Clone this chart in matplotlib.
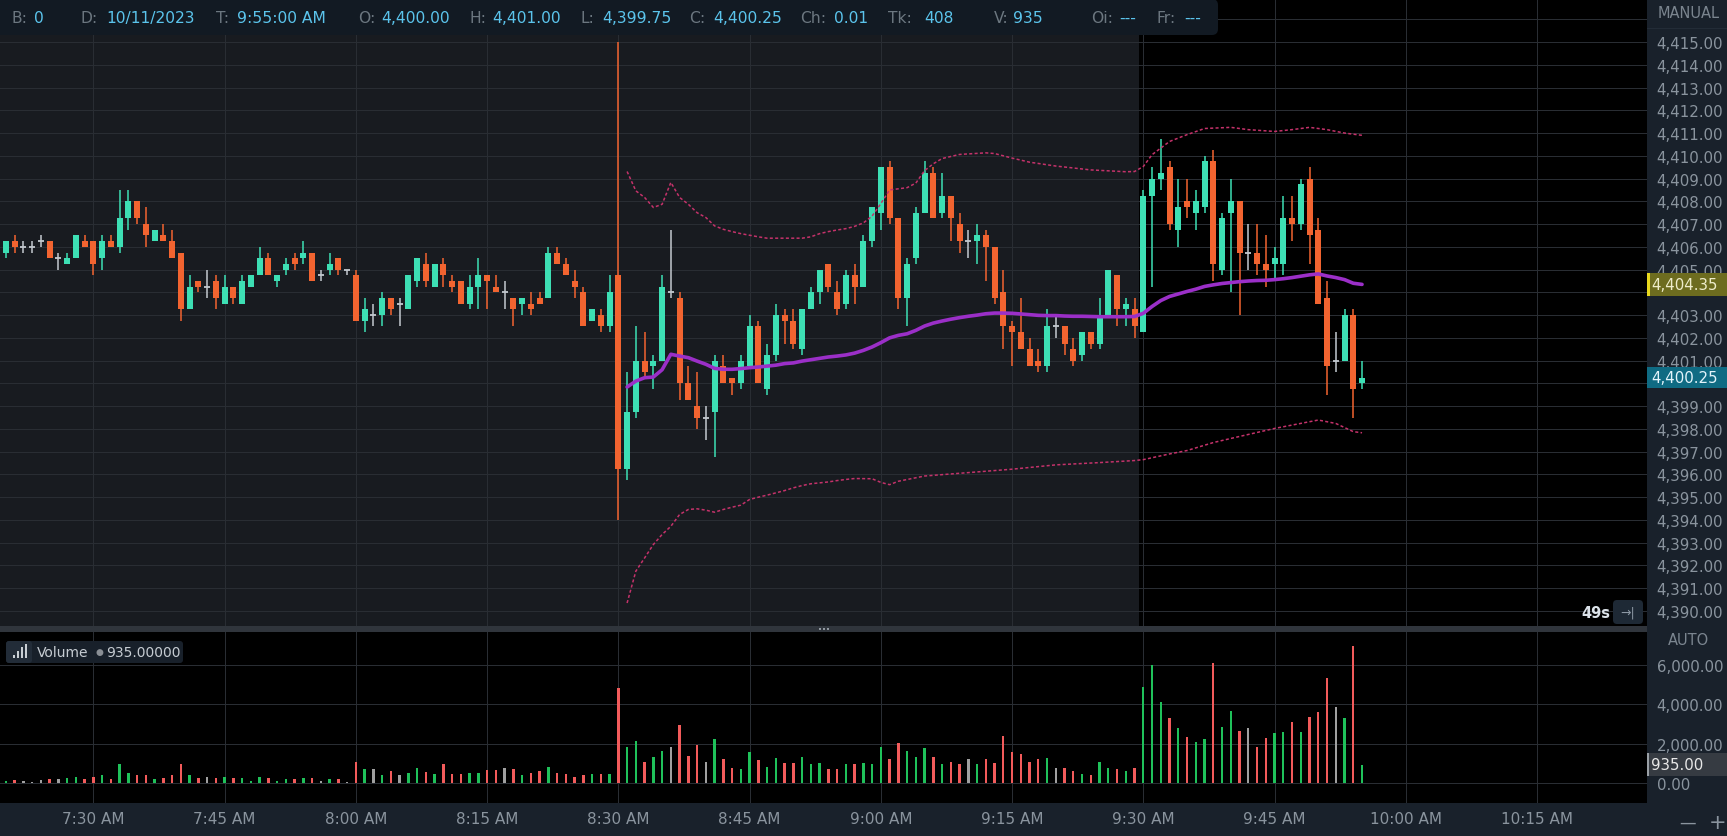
import matplotlib
matplotlib.use("Agg")
import matplotlib.pyplot as plt
import matplotlib.transforms as mtransforms
from matplotlib.patches import FancyBboxPatch, Rectangle
import numpy as np

plt.rcParams['font.family'] = ['DejaVu Sans']

# ---------------- data (1-minute bars, index 0 = 7:20 AM) ----------------
opens = [
    4405.75, 4406.25, 4406.0, 4406.0, 4406.25, 4406.25, 4405.5, 4405.25, 4405.5, 4406.25,
    4406.25, 4405.5, 4406.25, 4406.0, 4407.25, 4408.0, 4407.0, 4406.25, 4406.5, 4406.25,
    4405.75, 4403.25, 4404.5, 4404.25, 4404.5, 4403.5, 4404.25, 4403.5, 4404.25, 4404.75,
    4405.5, 4404.5, 4405.0, 4405.5, 4405.5, 4405.75, 4404.75, 4405.0, 4405.5, 4405.0,
    4404.75, 4402.75, 4403.0, 4403.0, 4403.75, 4403.5, 4403.25, 4404.5, 4405.25, 4404.25,
    4405.25, 4404.5, 4404.5, 4403.5, 4404.25, 4404.75, 4404.25, 4404.0, 4403.75, 4403.5,
    4403.5, 4403.75, 4403.75, 4405.75, 4405.25, 4404.5, 4404.0, 4402.75, 4403.0, 4402.5,
    4404.75, 4396.25, 4398.75, 4401.0, 4400.75, 4401.0, 4404.0, 4403.75, 4400.0, 4399.0,
    4398.5, 4398.75, 4400.75, 4400.25, 4400.0, 4400.75, 4402.5, 4399.75, 4401.25, 4403.0,
    4402.75, 4401.5, 4403.25, 4404.0, 4405.25, 4404.0, 4403.5, 4404.75, 4404.25, 4406.25,
    4407.5, 4409.5, 4407.25, 4403.75, 4405.5, 4407.5, 4409.25, 4407.5, 4408.25, 4407.0,
    4406.25, 4406.25, 4406.5, 4406.0, 4404.0, 4402.5, 4402.25, 4401.5, 4401.0, 4400.75,
    4402.5, 4402.5, 4401.5, 4401.25, 4402.25, 4401.75, 4403.0, 4404.75, 4403.25, 4403.25,
    4402.25, 4408.25, 4409.0, 4409.5, 4406.75, 4408.0, 4407.5, 4407.75, 4409.75, 4405.0,
    4407.5, 4408.0, 4405.75, 4405.75, 4405.25, 4405.25, 4405.25, 4407.25, 4407.0, 4409.0,
    4406.75, 4403.75, 4401.0, 4401.0, 4403.0, 4400.0,
]
highs = [
    4406.25, 4406.5, 4406.25, 4406.25, 4406.5, 4406.25, 4405.75, 4405.75, 4406.5, 4406.5,
    4406.25, 4406.5, 4406.5, 4408.5, 4408.5, 4408.0, 4407.75, 4406.75, 4407.0, 4406.75,
    4405.75, 4404.75, 4404.5, 4405.0, 4404.75, 4404.75, 4404.25, 4404.75, 4404.75, 4406.0,
    4405.75, 4404.75, 4405.5, 4405.75, 4406.25, 4405.75, 4405.0, 4405.75, 4405.5, 4405.0,
    4405.0, 4403.75, 4403.5, 4404.0, 4403.75, 4403.75, 4404.75, 4405.5, 4405.75, 4405.25,
    4405.5, 4404.75, 4404.5, 4404.75, 4405.5, 4404.75, 4404.75, 4404.5, 4403.75, 4403.75,
    4404.0, 4404.0, 4406.0, 4406.0, 4405.5, 4405.0, 4404.25, 4403.25, 4403.25, 4404.75,
    4415.0, 4400.5, 4402.5, 4402.25, 4401.25, 4404.75, 4406.75, 4404.0, 4400.75, 4400.5,
    4399.0, 4401.25, 4401.25, 4400.25, 4401.25, 4403.0, 4402.75, 4401.75, 4403.5, 4403.25,
    4403.25, 4403.25, 4404.25, 4405.0, 4405.25, 4404.5, 4405.0, 4405.25, 4406.5, 4407.75,
    4409.5, 4409.75, 4407.25, 4405.5, 4407.75, 4409.75, 4409.5, 4409.25, 4408.25, 4407.5,
    4406.75, 4407.0, 4406.75, 4406.0, 4405.0, 4402.75, 4403.75, 4402.0, 4401.5, 4403.25,
    4403.0, 4402.5, 4402.0, 4402.25, 4402.25, 4403.75, 4405.0, 4404.75, 4403.75, 4403.75,
    4408.5, 4409.5, 4410.75, 4409.75, 4409.0, 4409.0, 4408.5, 4410.0, 4410.25, 4407.5,
    4409.0, 4408.0, 4407.0, 4407.0, 4406.5, 4406.0, 4408.25, 4408.25, 4409.0, 4409.5,
    4407.25, 4404.5, 4402.25, 4403.25, 4403.25, 4401.0,
]
lows = [
    4405.5, 4405.75, 4405.75, 4405.75, 4406.0, 4405.5, 4405.0, 4405.25, 4405.5, 4406.0,
    4404.75, 4405.0, 4406.0, 4405.75, 4406.75, 4407.0, 4406.0, 4406.25, 4406.25, 4405.5,
    4402.75, 4403.25, 4404.0, 4403.75, 4403.25, 4403.5, 4403.5, 4403.5, 4404.25, 4404.75,
    4404.75, 4404.25, 4404.75, 4405.0, 4405.25, 4404.5, 4404.5, 4404.75, 4404.75, 4404.75,
    4402.75, 4402.25, 4402.5, 4402.5, 4403.0, 4402.5, 4403.25, 4404.25, 4404.25, 4404.25,
    4404.25, 4404.0, 4403.5, 4403.25, 4403.25, 4403.25, 4404.0, 4403.25, 4402.5, 4403.0,
    4403.0, 4403.5, 4403.75, 4405.25, 4404.75, 4403.75, 4402.5, 4402.75, 4402.25, 4402.25,
    4394.0, 4395.75, 4398.5, 4400.25, 4399.75, 4401.0, 4403.75, 4399.25, 4399.25, 4398.0,
    4397.5, 4396.75, 4400.0, 4399.5, 4399.75, 4400.75, 4400.0, 4399.5, 4401.0, 4401.75,
    4401.5, 4401.25, 4403.25, 4403.5, 4404.0, 4403.0, 4403.25, 4403.5, 4404.25, 4406.0,
    4406.75, 4407.0, 4403.25, 4402.5, 4405.25, 4407.5, 4407.25, 4407.25, 4406.25, 4405.75,
    4405.5, 4405.25, 4404.5, 4403.5, 4401.5, 4400.75, 4401.5, 4400.75, 4400.5, 4400.5,
    4402.0, 4401.25, 4400.75, 4401.0, 4401.5, 4401.5, 4403.0, 4402.5, 4402.5, 4402.0,
    4402.25, 4404.25, 4408.5, 4406.75, 4406.0, 4407.25, 4406.75, 4407.5, 4404.5, 4404.75,
    4404.0, 4403.0, 4405.0, 4404.75, 4404.25, 4404.5, 4404.75, 4406.25, 4406.75, 4405.25,
    4403.5, 4399.5, 4400.5, 4401.0, 4398.5, 4399.75,
]
closes = [
    4406.25, 4406.0, 4406.0, 4406.0, 4406.25, 4405.5, 4405.5, 4405.5, 4406.5, 4406.0,
    4405.25, 4406.25, 4406.0, 4407.25, 4408.0, 4407.25, 4406.5, 4406.75, 4406.25, 4405.5,
    4403.25, 4404.25, 4404.25, 4404.25, 4403.75, 4404.25, 4403.75, 4404.5, 4404.75, 4405.5,
    4404.75, 4404.75, 4405.25, 4405.25, 4405.75, 4404.5, 4404.75, 4405.25, 4405.0, 4405.0,
    4402.75, 4403.25, 4403.0, 4403.75, 4403.25, 4403.5, 4404.75, 4405.5, 4404.5, 4405.25,
    4404.75, 4404.25, 4403.5, 4404.25, 4404.75, 4404.5, 4404.0, 4404.0, 4403.25, 4403.75,
    4403.25, 4403.5, 4405.75, 4405.25, 4404.75, 4404.25, 4402.5, 4403.25, 4402.5, 4404.0,
    4396.25, 4398.75, 4401.0, 4400.5, 4401.0, 4404.25, 4404.0, 4400.0, 4399.25, 4398.5,
    4398.5, 4401.0, 4400.0, 4400.0, 4401.0, 4402.5, 4400.0, 4401.25, 4403.0, 4402.75,
    4401.75, 4403.25, 4404.0, 4405.0, 4404.25, 4403.25, 4404.75, 4404.25, 4406.25, 4407.75,
    4409.5, 4407.25, 4403.75, 4405.25, 4407.5, 4409.25, 4407.25, 4408.25, 4407.25, 4406.25,
    4406.25, 4406.5, 4406.0, 4403.75, 4402.5, 4402.25, 4401.5, 4400.75, 4400.75, 4402.5,
    4402.5, 4401.75, 4401.0, 4402.25, 4401.75, 4403.0, 4405.0, 4403.25, 4403.5, 4402.5,
    4408.25, 4409.0, 4409.25, 4407.0, 4407.75, 4407.75, 4408.0, 4409.75, 4405.25, 4407.25,
    4408.0, 4405.75, 4405.75, 4405.25, 4405.0, 4405.5, 4407.25, 4407.0, 4408.75, 4406.5,
    4403.5, 4400.75, 4401.0, 4403.0, 4399.75, 4400.25,
]
volumes = [
    120, 185, 135, 70, 185, 200, 200, 270, 335, 200,
    335, 400, 200, 960, 505, 400, 400, 200, 270, 400,
    960, 400, 270, 335, 270, 335, 270, 270, 135, 335,
    270, 135, 200, 200, 270, 270, 135, 200, 200, 70,
    1075, 705, 705, 400, 640, 400, 505, 775, 590, 455,
    960, 455, 455, 520, 520, 655, 655, 775, 705, 400,
    520, 640, 840, 520, 455, 335, 400, 455, 455, 455,
    4805, 1850, 2150, 1075, 1345, 1645, 1850, 2955, 1380, 1915,
    1090, 2220, 1210, 775, 705, 1595, 1160, 840, 1275, 1025,
    1025, 1345, 960, 1025, 705, 705, 960, 960, 1025, 960,
    1850, 1210, 2015, 1645, 1345, 1780, 1345, 960, 1090, 960,
    1210, 960, 1210, 1025, 2400, 1595, 1460, 1090, 1210, 1275,
    775, 775, 640, 455, 400, 1090, 775, 705, 640, 775,
    4870, 6000, 4115, 3295, 2790, 2350, 2100, 2220, 6065, 2855,
    3680, 2670, 2790, 1850, 2285, 2535, 2605, 3110, 2605, 3360,
    3610, 5310, 3865, 3295, 6955, 935,
]

# VWAP-style indicator (starts at 8:31)
vwap_x = list(range(71, 156))
vwap_vals = [
    4399.84, 4400.10, 4400.25, 4400.28, 4400.60, 4401.28, 4401.20, 4401.13, 4400.98, 4400.84,
    4400.66, 4400.62, 4400.62, 4400.65, 4400.69, 4400.72, 4400.76, 4400.80, 4400.87, 4400.90,
    4400.98, 4401.04, 4401.10, 4401.16, 4401.20, 4401.25, 4401.33, 4401.45, 4401.60, 4401.79,
    4402.00, 4402.11, 4402.18, 4402.33, 4402.52, 4402.65, 4402.74, 4402.82, 4402.89, 4402.95,
    4403.00, 4403.06, 4403.09, 4403.09, 4403.08, 4403.05, 4403.02, 4402.99, 4402.98, 4402.98,
    4402.96, 4402.95, 4402.95, 4402.94, 4402.93, 4402.93, 4402.93, 4402.93, 4402.94, 4403.08,
    4403.38, 4403.64, 4403.82, 4403.93, 4404.04, 4404.14, 4404.26, 4404.33, 4404.39, 4404.43,
    4404.47, 4404.50, 4404.52, 4404.53, 4404.56, 4404.60, 4404.65, 4404.71, 4404.77, 4404.81,
    4404.72, 4404.65, 4404.56, 4404.40, 4404.35,
]
upper_x = [71, 72, 73, 74, 75, 76, 77, 78, 79, 80, 81, 82, 83, 84, 85, 86, 87, 91, 92, 93,
           94, 95, 96, 97, 98, 99, 100, 101, 103, 104, 105, 106, 107, 109, 112, 113, 115, 117,
           120, 124, 128, 129, 130, 131, 133, 135, 137, 140, 142, 145, 147, 149, 151, 153, 155]
upper_vals = [4409.31, 4408.46, 4408.17, 4407.73, 4407.87, 4408.83, 4408.17, 4407.87, 4407.50,
              4407.29, 4406.92, 4406.77, 4406.67, 4406.58, 4406.51, 4406.44, 4406.38, 4406.38,
              4406.44, 4406.58, 4406.67, 4406.74, 4406.80, 4406.90, 4407.05, 4407.35, 4407.90,
              4408.50, 4408.60, 4408.80, 4409.35, 4409.65, 4409.88, 4410.06, 4410.13, 4410.10,
              4409.90, 4409.72, 4409.55, 4409.38, 4409.30, 4409.31, 4409.53, 4410.05, 4410.63,
              4410.93, 4411.20, 4411.25, 4411.15, 4411.07, 4411.15, 4411.25, 4411.15, 4411.00,
              4410.90]
lower_x = [71, 72, 73, 74, 75, 76, 77, 78, 79, 80, 81, 82, 83, 84, 85, 86, 87, 88, 89, 90,
           91, 92, 93, 94, 95, 96, 97, 99, 100, 101, 102, 105, 110, 115, 120, 125, 129, 130,
           133, 135, 138, 140, 145, 150, 152, 154, 155]
lower_vals = [4390.35, 4391.75, 4392.33, 4392.92, 4393.36, 4393.72, 4394.24, 4394.46, 4394.49,
              4394.43, 4394.34, 4394.46, 4394.56, 4394.65, 4394.90, 4395.00, 4395.09, 4395.19,
              4395.29, 4395.41, 4395.51, 4395.59, 4395.63, 4395.67, 4395.73, 4395.78, 4395.82,
              4395.81, 4395.65, 4395.55, 4395.70, 4395.93, 4396.08, 4396.23, 4396.42, 4396.52,
              4396.61, 4396.65, 4396.90, 4397.05, 4397.40, 4397.58, 4398.02, 4398.39, 4398.24,
              4397.88, 4397.83]

time_ticks = [10, 25, 40, 55, 70, 85, 100, 115, 130, 145, 160, 175]
time_labels = ["7:30 AM", "7:45 AM", "8:00 AM", "8:15 AM", "8:30 AM", "8:45 AM",
               "9:00 AM", "9:15 AM", "9:30 AM", "9:45 AM", "10:00 AM", "10:15 AM"]
price_ticks = list(range(4390, 4416))
volume_ticks = [0, 2000, 4000, 6000]
session_open_index = 129.5   # regular session starts at 9:30

last_vwap = 4404.35
header_labels = ["B:", "D:", "T:", "O:", "H:", "L:", "C:", "Ch:", "Tk:", "V:", "Oi:", "Fr:"]
header_values = ["0", "10/11/2023", "9:55:00 AM",
                 f"{opens[-1]:,.2f}", f"{highs[-1]:,.2f}", f"{lows[-1]:,.2f}", f"{closes[-1]:,.2f}",
                 "0.01", "408", f"{volumes[-1]}", "---", "---"]

# ---------------- styles ----------------
W, H = 1727, 837
GREEN, RED, GREY = '#3ddfb4', '#f26430', '#c3c9d0'
VGREEN, VRED, VGREY = '#1fc15a', '#f25b5b', '#a0a0a0'
GRID = '#292d33'
PANEL = '#19212b'
TXT = '#8a949e'

fig = plt.figure(figsize=(W / 100, H / 100), dpi=100)
fig.patch.set_facecolor(PANEL)
pix = mtransforms.Affine2D().scale(1 / 100, -1 / 100).translate(0, H / 100) + fig.dpi_scale_trans


def fx(px):
    return px / W


def fy(py):
    return 1 - py / H


CH_R = 1647
ax = fig.add_axes([0, fy(627), fx(CH_R), fy(0) - fy(627)])
axv = fig.add_axes([0, fy(804), fx(CH_R), fy(633) - fy(804)])

XL = (-0.675, 187.57)
for a in (ax, axv):
    a.set_facecolor('#000000')
    a.set_xlim(*XL)
    for s in a.spines.values():
        s.set_visible(False)
ax.set_ylim(4389.34, 4416.89)
axv.set_ylim(-996, 7653)

# session shading (pre-market lighter)
ax.axvspan(XL[0], session_open_index, color='#181b20', zorder=0, lw=0)

# grid
for p in range(4390, 4417):
    ax.axhline(p, color=GRID, lw=0.75, zorder=1)
for t in time_ticks:
    ax.axvline(t, color=GRID, lw=0.75, zorder=1)
    axv.axvline(t, color=GRID, lw=0.75, zorder=1)
for v in volume_ticks:
    axv.axhline(v, color=GRID, lw=0.75, zorder=1)

# candles
o = np.array(opens); h = np.array(highs); l = np.array(lows); c = np.array(closes)
x = np.arange(len(o))
col = np.where(c > o, GREEN, np.where(c < o, RED, GREY))
vcol = np.where(c > o, VGREEN, np.where(c < o, VRED, VGREY))
ax.vlines(x, l, h, colors=col, lw=1.1, zorder=3)
bh = np.abs(c - o)
m = bh > 0
ax.bar(x[m], bh[m], bottom=np.minimum(o, c)[m], width=0.68, color=col[m], lw=0, zorder=4)
ax.hlines(o[~m], x[~m] - 0.34, x[~m] + 0.34, colors=GREY, lw=1.3, zorder=4)

# indicator lines
ax.plot(upper_x, upper_vals, color='#c4326a', lw=1.1, ls=(0, (2.0, 1.5)), zorder=5)
ax.plot(lower_x, lower_vals, color='#c4326a', lw=1.1, ls=(0, (2.0, 1.5)), zorder=5)
ax.plot(vwap_x, vwap_vals, color='#9b2fc8', lw=2.6, zorder=6, solid_capstyle='round')

# volume bars
axv.bar(x, volumes, width=0.27, color=vcol, lw=0, zorder=3)

# axes ticks (labels hidden behind the last-price boxes are left blank)
hidden = {int(last_vwap), int(closes[-1])}
ax.yaxis.tick_right()
ax.set_yticks(price_ticks)
ax.set_yticklabels(["" if p in hidden else f"{p:,.2f}" for p in price_ticks])
ax.tick_params(axis='y', length=0, pad=7, labelsize=10.8, labelcolor=TXT)
ax.tick_params(axis='x', bottom=False, labelbottom=False)

axv.yaxis.tick_right()
axv.set_yticks(volume_ticks)
axv.set_yticklabels([f"{v:,.2f}" for v in volume_ticks])
axv.tick_params(axis='y', length=0, pad=7, labelsize=10.8, labelcolor=TXT)
axv.set_xticks(time_ticks)
axv.set_xticklabels(time_labels)
axv.tick_params(axis='x', length=0, pad=6, labelsize=11, labelcolor=TXT)

# ---------------- overlays ----------------
# separator between panes
fig.add_artist(Rectangle((0, 627), CH_R, 6, transform=pix, color='#30353c', lw=0, zorder=2))
fig.text(824 / W, fy(630.5), "•••", color='#aab2ba', fontsize=5, ha='center', va='center', zorder=5)

# header bar
fig.add_artist(FancyBboxPatch((-10, 0), 1228, 36, boxstyle='round,pad=0,rounding_size=6',
                              transform=pix, facecolor='#121a23', edgecolor='none', zorder=2))
label_x = [11.5, 80, 216, 358, 469, 581, 689, 800, 888, 994, 1091, 1156]
value_x = [34, 106, 237, 381, 492.5, 602, 713, 834, 924, 1013, 1119, 1184]
for lab, val, lx, vx in zip(header_labels, header_values, label_x, value_x):
    fig.text(fx(lx), fy(18.5), lab, color='#6c7780', fontsize=11.2, va='center', ha='left', zorder=5)
    fig.text(fx(vx), fy(18.5), val, color='#5bc4ec', fontsize=11.2, va='center', ha='left', zorder=5)

# axis captions
fig.text(fx(1689), fy(14), "MANUAL", color='#7b858f', fontsize=10.5, ha='center', va='center')
fig.add_artist(Rectangle((CH_R, 29), 80, 1, transform=pix, color='#232c37', lw=0))
fig.text(fx(1689), fy(641), "AUTO", color='#7b858f', fontsize=10.5, ha='center', va='center')

# last price labels on the price axis
bl = mtransforms.blended_transform_factory(fig.transFigure, ax.transData)
half = 11.3 / 22.76
fig.add_artist(Rectangle((fx(CH_R), last_vwap - half), fx(80), 2 * half, transform=bl,
                         color='#6d6c1f', lw=0, zorder=3))
fig.add_artist(Rectangle((fx(CH_R), last_vwap - half), fx(2.5), 2 * half, transform=bl,
                         color='#e8d81e', lw=0, zorder=4))
fig.text(fx(1651), last_vwap, f"{last_vwap:,.2f}", transform=bl, color='#eeeccb',
         fontsize=10.8, va='center', ha='left', zorder=5)
half2 = 10.5 / 22.76
fig.add_artist(Rectangle((fx(CH_R), closes[-1] - half2), fx(80), 2 * half2, transform=bl,
                         color='#0f6b83', lw=0, zorder=3))
fig.text(fx(1651), closes[-1], f"{closes[-1]:,.2f}", transform=bl, color='#e2f4fb',
         fontsize=10.8, va='center', ha='left', zorder=5)

# last volume label
blv = mtransforms.blended_transform_factory(fig.transFigure, axv.transData)
vh = 11.5 / 19.77 * 1000
fig.add_artist(Rectangle((fx(CH_R), volumes[-1] - vh), fx(80), 2 * vh, transform=blv,
                         color='#363b42', lw=0, zorder=3))
fig.add_artist(Rectangle((fx(CH_R), volumes[-1] - vh), fx(2), 2 * vh, transform=blv,
                         color='#9aa0a6', lw=0, zorder=4))
fig.text(fx(1651), volumes[-1], f"{volumes[-1]:,.2f}", transform=blv, color='#e8e8e8',
         fontsize=10.8, va='center', ha='left', zorder=5)

# 49s countdown + scroll button
fig.text(fx(1610), fy(614), "49s", color='#dce3ea', fontsize=10.5, fontweight='bold',
         ha='right', va='center', zorder=5)
fig.add_artist(FancyBboxPatch((1613, 601), 30, 24, boxstyle='round,pad=0,rounding_size=4',
                              transform=pix, facecolor='#1e2935', edgecolor='none', zorder=4))
fig.text(fx(1628), fy(613), "→|", color='#8c98a4', fontsize=9, ha='center', va='center', zorder=5)

# volume legend box
fig.add_artist(FancyBboxPatch((6, 642), 177, 22, boxstyle='round,pad=0,rounding_size=3',
                              transform=pix, facecolor='#18202a', edgecolor='none', zorder=4))
fig.add_artist(FancyBboxPatch((6, 642), 26, 22, boxstyle='round,pad=0,rounding_size=3',
                              transform=pix, facecolor='#222c38', edgecolor='none', zorder=4))
for bx, by in [(12.5, 656), (16.5, 652), (20.5, 648)]:
    fig.add_artist(Rectangle((bx, by), 2.4, 659 - by, transform=pix, color='#c9cfd5', lw=0, zorder=5))
fig.add_artist(Rectangle((25, 645), 2.4, 14, transform=pix, color='#c9cfd5', lw=0, zorder=5))
fig.text(fx(37), fy(653), "Volume", color='#c6ccd2', fontsize=10, ha='left', va='center', zorder=5)
fig.text(fx(99), fy(653), "●", color='#8a8f95', fontsize=6.5, ha='center', va='center', zorder=5)
fig.text(fx(106), fy(653), f"{volumes[-1]:.5f}", color='#c6ccd2', fontsize=10, ha='left',
         va='center', zorder=5)

# zoom controls
fig.text(fx(1688), fy(823), "—", color=TXT, fontsize=12, ha='center', va='center')
fig.text(fx(1718), fy(823), "+", color=TXT, fontsize=15, ha='center', va='center')

fig.savefig("out.png", dpi=100, facecolor=fig.get_facecolor())
